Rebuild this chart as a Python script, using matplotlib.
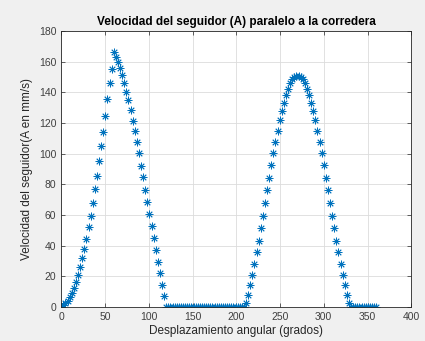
import numpy as np
import matplotlib

matplotlib.use("Agg")
import matplotlib.pyplot as plt

# angle grid (degrees), 2.4 deg step
angulo = np.linspace(0, 360, 151)

# velocity (mm/s)
subida_1 = [0, 1.0, 2.4, 4.2, 6.6, 9.4, 12.5, 16.0, 20.6, 26.0, 31.8, 38.0, 44.3,
            52.0, 59.6, 68.0, 77.0, 85.5, 95.2, 105.0, 114.4, 124.5, 135.4, 146.0,
            155.3, 166.0]
bajada_1 = [163.3, 159.6, 155.7, 151.3, 145.9, 140.4, 135.0, 128.5, 121.5, 114.8,
            107.4, 100.3, 92.2, 84.6, 76.3, 68.5, 60.7, 52.8, 44.8, 37.2, 29.6,
            22.0, 14.4, 7.2, 0]
reposo_1 = [0] * 37
subida_2 = [2.4, 7.8, 14.4, 20.9, 28.0, 35.7, 43.3, 51.3, 59.6, 67.6, 76.1, 84.3,
            92.6, 100.5, 107.8, 115.0, 121.8, 127.9, 133.3, 138.3, 142.2, 145.9,
            148.5, 150.2, 150.9]
bajada_2 = [150.9, 150.2, 148.5, 145.9, 142.2, 138.3, 133.3, 127.9, 121.8, 115.0,
            107.8, 100.5, 92.6, 84.3, 76.1, 67.6, 59.6, 51.3, 43.3, 35.7, 28.0,
            20.9, 14.4, 7.8, 2.4]
reposo_2 = [0] * 13

velocidad = subida_1 + bajada_1 + reposo_1 + subida_2 + bajada_2 + reposo_2

plt.rcParams["font.family"] = ["Liberation Sans", "DejaVu Sans"]

fig = plt.figure(figsize=(4.25, 3.41), dpi=100, facecolor="#f0f0f0")
ax = fig.add_axes([0.1442, 0.0997, 0.8235, 0.8094])

ax.plot(angulo, velocidad, linestyle="none", marker=(8, 2, 0), markersize=5.5,
        markeredgewidth=0.6, color="#0072BD")

ax.set_xlim(0, 400)
ax.set_ylim(0, 180)
ax.set_xticks(np.arange(0, 401, 50))
ax.set_yticks(np.arange(0, 181, 20))
ax.grid(True, color="#dcdcdc", linewidth=0.6)
ax.set_axisbelow(True)
ax.tick_params(direction="in", length=3, width=0.5, colors="#262626",
               labelsize=7.5, labelcolor="#404040", top=True, right=True,
               labeltop=False, labelright=False)
for s in ax.spines.values():
    s.set_color("#262626")
    s.set_linewidth(0.6)

ax.set_title("Velocidad del seguidor (A) paralelo a la corredera",
             fontsize=8.5, fontweight="bold", color="black", pad=4)
ax.set_xlabel("Desplazamiento angular (grados)", fontsize=8.5, color="#262626",
              labelpad=2)
ax.set_ylabel("Velocidad del seguidor(A en mm/s)", fontsize=8.5, color="#262626",
              labelpad=4)

fig.savefig("out.png", dpi=100, facecolor=fig.get_facecolor())
